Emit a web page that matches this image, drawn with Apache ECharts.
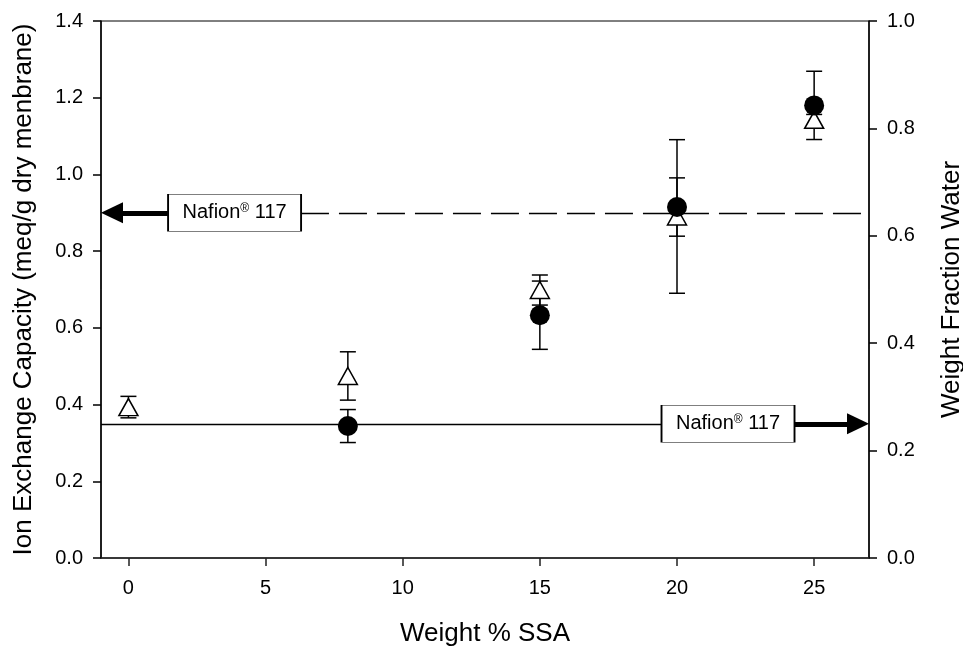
<!DOCTYPE html>
<html>
<head>
<meta charset="utf-8">
<script src="https://cdn.jsdelivr.net/npm/echarts@6/dist/echarts.min.js"></script>
<style>
  html, body { margin: 0; padding: 0; background: #fff; }
  #chart { width: 963px; height: 647px; }
</style>
</head>
<body>
<div id="chart"></div>
<script>
// 离子交换容量（左轴，实心圆）
const iecX = [8, 15, 20, 25]
const iecY = [0.344, 0.633, 0.915, 1.18]
const iecErr = [0.043, 0.089, 0.076, 0.089]

// 含水率（右轴，空心三角）
const waterX = [0, 8, 15, 20, 25]
const waterY = [0.281, 0.339, 0.499, 0.636, 0.816]
const waterErr = [0.02, 0.045, 0.028, 0.143, 0.01]

// Nafion 117 参考值
const nafionIec = 0.9
const nafionWaterOnLeft = 0.35 // 右轴上约 0.25

const xTicks = [0, 5, 10, 15, 20, 25]

const chart = echarts.init(document.getElementById('chart'))
const font = "'Liberation Sans', Arial, sans-serif"

// 误差棒
const errorBar = (xs, ys, errs, axisIndex) => ({
  type: 'custom',
  yAxisIndex: axisIndex,
  z: 1,
  silent: true,
  data: xs.map((x, i) => [x, ys[i] - errs[i], ys[i] + errs[i]]),
  renderItem: (params, api) => {
    const lo = api.coord([api.value(0), api.value(1)])
    const hi = api.coord([api.value(0), api.value(2)])
    const w = 8
    const style = { stroke: '#000', lineWidth: 1.5 }
    return {
      type: 'group',
      children: [
        { type: 'line', shape: { x1: lo[0], y1: lo[1], x2: hi[0], y2: hi[1] }, style },
        { type: 'line', shape: { x1: lo[0] - w, y1: lo[1], x2: lo[0] + w, y2: lo[1] }, style },
        { type: 'line', shape: { x1: hi[0] - w, y1: hi[1], x2: hi[0] + w, y2: hi[1] }, style }
      ]
    }
  }
})

const boxLabel = {
  show: true,
  position: 'inside',
  formatter: '{a|Nafion}{s|®}{a| 117}',
  rich: {
    a: { fontSize: 20, color: '#000', fontFamily: font },
    s: { fontSize: 12, color: '#000', fontFamily: font, verticalAlign: 'top', padding: [0, 0, 8, 0] }
  }
}

const yAxisBase = {
  type: 'value',
  nameLocation: 'middle',
  nameTextStyle: { fontSize: 26, color: '#000', fontFamily: font },
  axisLine: { show: true, onZero: false, lineStyle: { color: '#000', width: 1.5 } },
  axisTick: { show: true, length: 8, lineStyle: { color: '#000', width: 1.5 } },
  axisLabel: { fontSize: 20, color: '#000', fontFamily: font, margin: 18, formatter: v => v.toFixed(1) },
  splitLine: { show: false }
}

const option = {
  animation: false,
  backgroundColor: '#fff',
  grid: {
    left: 101, right: 94, top: 21, bottom: 89,
    outerBoundsMode: 'none',
    containLabel: false,
    show: true, borderColor: '#000', borderWidth: 1
  },
  xAxis: {
    type: 'value',
    min: -1, max: 27,
    name: 'Weight % SSA',
    nameLocation: 'middle',
    nameGap: 63,
    nameTextStyle: { fontSize: 26, color: '#000', fontFamily: font },
    axisLine: { onZero: false, lineStyle: { color: '#222', width: 1.5 } },
    axisTick: { length: 8, customValues: xTicks, lineStyle: { color: '#222', width: 1.5 } },
    axisLabel: { customValues: xTicks, fontSize: 20, color: '#000', fontFamily: font, margin: 20 },
    splitLine: { show: false }
  },
  yAxis: [
    Object.assign({}, yAxisBase, {
      min: 0, max: 1.4, interval: 0.2,
      name: 'Ion Exchange Capacity (meq/g dry menbrane)',
      nameGap: 64
    }),
    Object.assign({}, yAxisBase, {
      position: 'right',
      min: 0, max: 1.0, interval: 0.2,
      name: 'Weight Fraction Water',
      nameGap: 70,
      nameRotate: 90
    })
  ],
  series: [
    errorBar(waterX, waterY, waterErr, 1),
    errorBar(iecX, iecY, iecErr, 0),
    {
      name: 'Water',
      type: 'scatter',
      yAxisIndex: 1,
      z: 3,
      symbol: 'triangle',
      symbolSize: [19, 17],
      itemStyle: { color: '#fff', borderColor: '#000', borderWidth: 1.5, opacity: 1 },
      data: waterX.map((x, i) => [x, waterY[i]])
    },
    {
      name: 'IEC',
      type: 'scatter',
      yAxisIndex: 0,
      z: 4,
      symbol: 'circle',
      symbolSize: 20,
      itemStyle: { color: '#000', opacity: 1 },
      data: iecX.map((x, i) => [x, iecY[i]]),
      markLine: {
        silent: true,
        symbol: 'none',
        label: { show: false },
        data: [
          // 虚线：Nafion IEC
          [{ coord: [6.29, nafionIec], lineStyle: { type: [28, 10], width: 1.3, color: '#000' } },
           { coord: [27, nafionIec] }],
          // 实线：Nafion 含水率
          [{ coord: [-1, nafionWaterOnLeft], lineStyle: { type: 'solid', width: 1.3, color: '#000' } },
           { coord: [19.44, nafionWaterOnLeft] }],
          // 左箭头
          [{ coord: [1.44, nafionIec], symbol: 'none', lineStyle: { type: 'solid', width: 5, color: '#000' } },
           { coord: [-0.6, nafionIec], symbol: 'triangle', symbolSize: [21, 22] }],
          // 右箭头
          [{ coord: [24.28, nafionWaterOnLeft], symbol: 'none', lineStyle: { type: 'solid', width: 5, color: '#000' } },
           { coord: [26.6, nafionWaterOnLeft], symbol: 'triangle', symbolSize: [21, 22] }]
        ]
      },
      markPoint: {
        silent: true,
        symbol: 'rect',
        symbolSize: [133, 37],
        itemStyle: { color: '#fff', borderColor: '#000', borderWidth: 1 },
        label: boxLabel,
        data: [
          { coord: [3.87, nafionIec] },
          { coord: [21.86, nafionWaterOnLeft] }
        ]
      }
    }
  ]
}

chart.setOption(option)
</script>
</body>
</html>
